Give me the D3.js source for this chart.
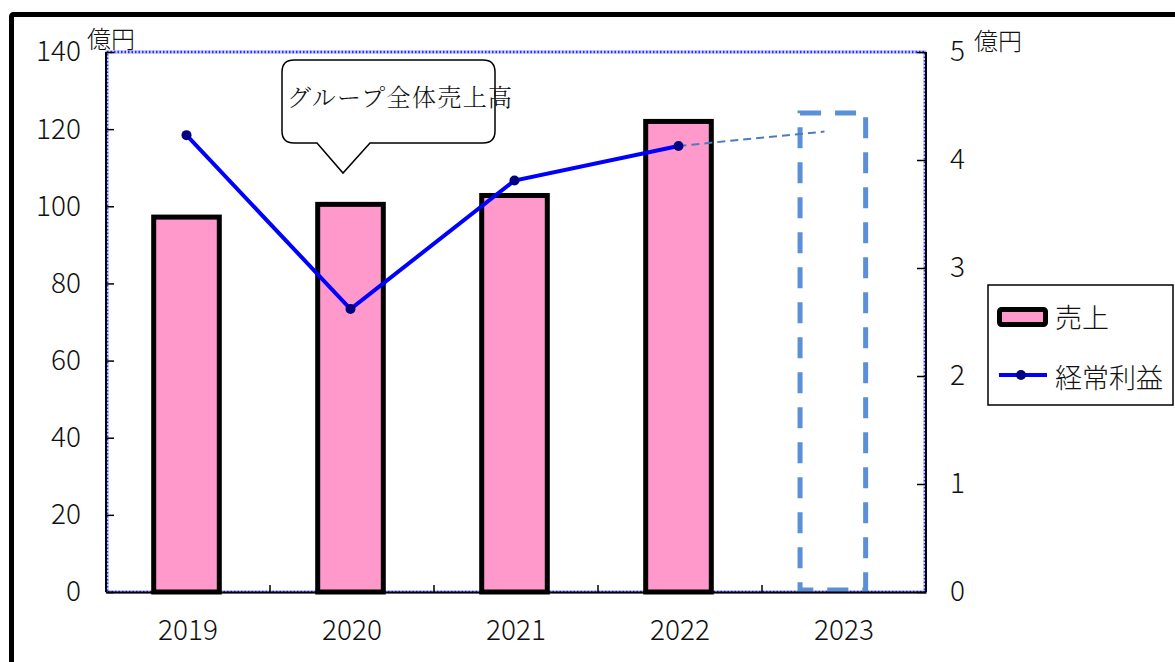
<!DOCTYPE html>
<html>
<head>
<meta charset="utf-8">
<script src="https://cdn.jsdelivr.net/npm/d3@7"></script>
<style>
  body { margin: 0; background: #fff; }
  text { font-family: "Noto Sans CJK JP", sans-serif; fill: #111; }
</style>
</head>
<body>
<div id="chart"></div>
<script>
var years = ['2019', '2020', '2021', '2022', '2023'];
var sales = [97.2, 100.5, 102.8, 122.0];        // 売上 (億円)
var salesPlan = [124.2];                          // 2023 見込み (dashed)
var profit = [4.23, 2.62, 3.81, 4.13];           // 経常利益 (億円)
var profitPlan = [4.28];                          // 2023 見込み
var leftTicks = [0, 20, 40, 60, 80, 100, 120, 140];
var rightTicks = [0, 1, 2, 3, 4, 5];

var width = 1175;
var height = 662;
var plot = {left: 106, right: 926, top: 52, bottom: 592};

var svg = d3.select('#chart')
            .append('svg')
            .attr('width', width)
            .attr('height', height);

// outer frame (runs off the picture right and bottom)
svg.append('rect')
   .attr('x', 11.5).attr('y', 14.5)
   .attr('width', 1200).attr('height', 700)
   .attr('rx', 2)
   .attr('fill', 'none')
   .attr('stroke', '#000')
   .attr('stroke-width', 5);

var x = d3.scaleBand()
          .domain(years)
          .range([plot.left, plot.right]);

var yL = d3.scaleLinear().domain([0, 140]).range([plot.bottom, plot.top]);
var yR = d3.scaleLinear().domain([0, 5]).range([plot.bottom, plot.top]);

// plot area border: dotted blue
svg.append('rect')
   .attr('x', plot.left + 1).attr('y', plot.top)
   .attr('width', plot.right - plot.left - 2).attr('height', plot.bottom - plot.top)
   .attr('fill', 'none')
   .attr('stroke', '#c4caff')
   .attr('stroke-width', 3.5);
svg.append('rect')
   .attr('x', plot.left + 1).attr('y', plot.top)
   .attr('width', plot.right - plot.left - 2).attr('height', plot.bottom - plot.top)
   .attr('fill', 'none')
   .attr('stroke', '#2a2aff')
   .attr('stroke-width', 2.5)
   .attr('stroke-dasharray', '1.5,2');

var barW = x.bandwidth() * 0.4;
var barShift = -1.5;
var planShift = -x.bandwidth() * 0.068;

svg.append('g')
   .selectAll('rect')
   .data(sales)
   .enter()
   .append('rect')
   .attr('x', (d, i) => x(years[i]) + (x.bandwidth() - barW) / 2 + barShift)
   .attr('y', d => yL(d))
   .attr('width', barW)
   .attr('height', d => yL(0) - yL(d))
   .attr('fill', '#ff99cc')
   .attr('stroke', '#000')
   .attr('stroke-width', 5);

// 2023 plan box
svg.append('g')
   .selectAll('rect')
   .data(salesPlan)
   .enter()
   .append('rect')
   .attr('x', x('2023') + (x.bandwidth() - barW) / 2 + planShift)
   .attr('y', d => yL(d))
   .attr('width', barW)
   .attr('height', d => yL(0) - yL(d) - 2)
   .attr('fill', 'none')
   .attr('stroke', '#5b8fd8')
   .attr('stroke-width', 5)
   .attr('stroke-dasharray', '21,14');

// axes
var axisL = d3.axisLeft(yL).tickValues(leftTicks).tickSize(-8).tickPadding(25);
var gL = svg.append('g')
            .attr('transform', 'translate(' + plot.left + ',0)')
            .call(axisL);
var axisR = d3.axisRight(yR).tickValues(rightTicks).tickFormat(d3.format('d')).tickSize(-9).tickPadding(24);
var gR = svg.append('g')
            .attr('transform', 'translate(' + plot.right + ',0)')
            .call(axisR);
var axisB = d3.axisBottom(x).tickSize(0).tickPadding(28);
var gB = svg.append('g')
            .attr('transform', 'translate(0,' + plot.bottom + ')')
            .call(axisB);

[gL, gR, gB].forEach(g => {
  g.select('.domain').attr('stroke', '#000').attr('stroke-width', 2);
  g.selectAll('.tick line').attr('stroke', '#000').attr('stroke-width', 1.5);
  g.selectAll('.tick text')
   .style('font-family', '"Noto Sans CJK JP", sans-serif')
   .style('font-size', '28px')
   .style('font-weight', 300)
   .attr('fill', '#111');
});
gL.select('.domain').attr('d', 'M0,' + plot.top + 'V' + plot.bottom);
gR.select('.domain').attr('d', 'M0,' + plot.top + 'V' + plot.bottom);
gR.selectAll('.tick text').attr('text-anchor', 'start');
gB.selectAll('.tick text').attr('dy', '0.72em');

// category ticks between bands (pointing up)
svg.append('g')
   .selectAll('line')
   .data(years.slice(1))
   .enter()
   .append('line')
   .attr('x1', d => x(d)).attr('x2', d => x(d))
   .attr('y1', plot.bottom).attr('y2', plot.bottom - 7)
   .attr('stroke', '#000')
   .attr('stroke-width', 1.5);

// unit labels
svg.append('text').attr('x', 87).attr('y', 48).style('font-size', '24px').style('font-weight', 300).text('億円');
svg.append('text').attr('x', 974).attr('y', 50).style('font-size', '24px').style('font-weight', 300).text('億円');

// profit line
var cx = (d, i) => x(years[i]) + x.bandwidth() / 2 + barShift;
var line = d3.line()
             .x(cx)
             .y(d => yR(d));

// projection dashed line toward 2023
var last = profit.length - 1;
var x0 = cx(null, last), y0 = yR(profit[last]);
var x1 = cx(null, last + 1), y1 = yR(profitPlan[0]);
var t = 0.89;
svg.append('line')
   .attr('x1', x0).attr('y1', y0)
   .attr('x2', x0 + (x1 - x0) * t).attr('y2', y0 + (y1 - y0) * t)
   .attr('stroke', '#4a7ebb')
   .attr('stroke-width', 2)
   .attr('stroke-dasharray', '8,5');

svg.append('path')
   .datum(profit)
   .attr('d', line)
   .attr('fill', 'none')
   .attr('stroke', '#0000ff')
   .attr('stroke-width', 4);

svg.append('g')
   .selectAll('circle')
   .data(profit)
   .enter()
   .append('circle')
   .attr('cx', cx)
   .attr('cy', d => yR(d))
   .attr('r', 5)
   .attr('fill', '#000080');

// callout
var callout = svg.append('g');
callout.append('path')
   .attr('d', 'M294,60 H483 Q495,60 495,72 V131 Q495,143 483,143 H370 L343,173 L317,143 H294 Q282,143 282,131 V72 Q282,60 294,60 Z')
   .attr('fill', '#fff')
   .attr('stroke', '#000')
   .attr('stroke-width', 1.5);
callout.append('text')
   .attr('x', 287).attr('y', 106)
   .attr('textLength', 225)
   .style('font-family', '"Noto Serif CJK JP", "Noto Sans CJK JP", serif')
   .style('font-size', '24px')
   .style('font-weight', 300)
   .text('グループ全体売上高');

// legend
var legend = svg.append('g');
legend.append('rect')
   .attr('x', 988).attr('y', 285)
   .attr('width', 185).attr('height', 120)
   .attr('fill', '#fff')
   .attr('stroke', '#000')
   .attr('stroke-width', 1.5);
legend.append('rect')
   .attr('x', 999.5).attr('y', 309.5)
   .attr('width', 46).attr('height', 15)
   .attr('rx', 2)
   .attr('fill', '#ff99cc')
   .attr('stroke', '#000')
   .attr('stroke-width', 5);
legend.append('text').attr('x', 1055).attr('y', 328).style('font-size', '27px').style('font-weight', 300).text('売上');
legend.append('line')
   .attr('x1', 999).attr('x2', 1047)
   .attr('y1', 375).attr('y2', 375)
   .attr('stroke', '#0000ff')
   .attr('stroke-width', 4);
legend.append('circle').attr('cx', 1021).attr('cy', 375).attr('r', 5).attr('fill', '#000080');
legend.append('text').attr('x', 1055).attr('y', 388).style('font-size', '27px').style('font-weight', 300).text('経常利益');
</script>
</body>
</html>
